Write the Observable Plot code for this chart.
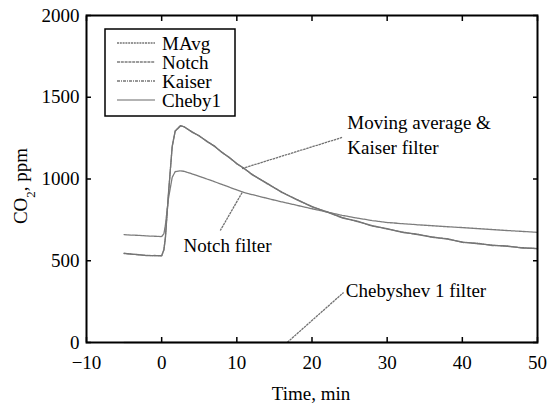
<!DOCTYPE html>
<html>
<head>
<meta charset="utf-8">
<script src="https://cdn.jsdelivr.net/npm/d3@7"></script>
<script src="https://cdn.jsdelivr.net/npm/@observablehq/plot@0.6"></script>
<style>
  html, body { margin: 0; padding: 0; background: #fff; }
  #chart { position: relative; width: 557px; height: 407px; }
  #chart svg, #chart svg text { font-family: "Liberation Serif", "Times New Roman", serif !important; }
</style>
</head>
<body>
<div id="chart"></div>
<script>
// Filtered CO2 response (ppm) versus time (min)
const seriesNames = ["MAvg", "Notch", "Kaiser", "Cheby1"];

const tPeak = [-5, -4, -3, -2, -1, 0, 0.3, 0.5, 0.9, 1.4, 1.8, 2.5, 3, 4, 5, 6, 7, 8, 9, 10, 11, 12, 14, 16, 18, 20, 22, 24, 26, 28, 30, 32, 34, 36, 38, 40, 42, 44, 46, 48, 50];
const mavgValues = [544, 541, 536, 533, 531, 531, 570, 640, 910, 1200, 1295, 1327, 1318, 1290, 1262, 1232, 1200, 1165, 1130, 1095, 1062, 1030, 972, 920, 872, 832, 797, 765, 740, 715, 694, 676, 660, 646, 632, 615, 604, 596, 588, 580, 573];
const kaiserValues = [546, 540, 537, 531, 532, 530, 566, 646, 905, 1196, 1292, 1324, 1320, 1287, 1265, 1229, 1203, 1162, 1133, 1092, 1065, 1027, 975, 917, 875, 829, 800, 762, 743, 712, 697, 673, 663, 643, 635, 612, 607, 593, 591, 577, 576];
const notchValues = [660, 657, 655, 652, 650, 648, 665, 720, 880, 1010, 1045, 1050, 1047, 1032, 1016, 1000, 984, 967, 950, 933, 917, 905, 882, 860, 839, 818, 798, 778, 761, 746, 734, 727, 720, 714, 708, 703, 697, 691, 685, 679, 674];
const cheby1Values = tPeak.map(() => 0);

const xTicks = [-10, 0, 10, 20, 30, 40, 50];
const yTicks = [0, 500, 1000, 1500, 2000];

// Callout texts and the leader lines that tie them to the curves
const noteTexts = ["Moving average &", "Kaiser filter", "Notch filter", "Chebyshev 1 filter"];
const noteT = [24.7, 24.7, 2.9, 24.5];
const noteV = [1345, 1193, 593, 318];
const leaderT1 = [10.7, 10.7, 16.7];
const leaderV1 = [1064, 917, 0];
const leaderT2 = [24.0, 7.8, 24.2];
const leaderV2 = [1254, 685, 306];

const styles = {
  MAvg:   {stroke: "#757575", dash: "2,0.8"},
  Notch:  {stroke: "#7c7c7c", dash: "3,0.8"},
  Kaiser: {stroke: "#757575", dash: "3,1,1,1"},
  Cheby1: {stroke: "#9a9a9a", dash: null}
};

const valuesBySeries = {MAvg: mavgValues, Notch: notchValues, Kaiser: kaiserValues, Cheby1: cheby1Values};
const rows = seriesNames.flatMap(name => tPeak.map((t, i) => ({series: name, t, v: valuesBySeries[name][i]})));
const notes = noteTexts.map((text, i) => ({text, t: noteT[i], v: noteV[i]}));
const leaders = leaderT1.map((t1, i) => ({t1, v1: leaderV1[i], t2: leaderT2[i], v2: leaderV2[i]}));

const fmtX = d => d < 0 ? "\u2212" + Math.abs(d) : String(d);
const fmtY = d => String(d);

const plot = Plot.plot({
  width: 557,
  height: 407,
  marginLeft: 86,
  marginRight: 20,
  marginTop: 15,
  marginBottom: 65,
  style: {fontFamily: "'Liberation Serif', 'Times New Roman', serif", fontSize: "19px", color: "#000", background: "#fff"},
  x: {domain: [-10, 50]},
  y: {domain: [0, 2000]},
  marks: [
    ...seriesNames.map(name => Plot.line(rows.filter(r => r.series === name), {
      x: "t", y: "v",
      stroke: styles[name].stroke,
      strokeWidth: 1.3,
      strokeDasharray: styles[name].dash
    })),
    Plot.link(leaders, {x1: "t1", y1: "v1", x2: "t2", y2: "v2", stroke: "#707070", strokeWidth: 1.3, strokeDasharray: "2.5,0.7"}),
    Plot.text(notes, {x: "t", y: "v", text: "text", textAnchor: "start", lineAnchor: "middle", fill: "#000"}),
    Plot.frame({stroke: "#000", strokeWidth: 2}),
    Plot.axisX(xTicks, {anchor: "bottom", tickSize: -5, tickPadding: 18, tickFormat: fmtX, label: null, strokeWidth: 1.5}),
    Plot.axisX(xTicks, {anchor: "top", tickSize: -5, tickFormat: () => "", label: null, strokeWidth: 1.5}),
    Plot.axisY(yTicks, {anchor: "left", tickSize: -5, tickPadding: 12, tickFormat: fmtY, label: null, strokeWidth: 1.5}),
    Plot.axisY(yTicks, {anchor: "right", tickSize: -5, tickFormat: () => "", label: null, strokeWidth: 1.5})
  ]
});

document.getElementById("chart").appendChild(plot);

// Axis titles, with a real subscript in CO2
const svg = d3.select(plot);
svg.append("text")
  .attr("x", 311).attr("y", 400)
  .attr("text-anchor", "middle")
  .attr("font-size", 19)
  .text("Time, min");

const yTitle = svg.append("text")
  .attr("transform", "translate(27,186) rotate(-90)")
  .attr("text-anchor", "middle")
  .attr("font-size", 19);
yTitle.append("tspan").text("CO");
yTitle.append("tspan").attr("baseline-shift", "sub").attr("font-size", 13).text("2");
yTitle.append("tspan").text(", ppm");

// Legend box in the upper-left corner of the plot area
const legend = svg.append("g").attr("transform", "translate(105,29)");
legend.append("rect")
  .attr("width", 130).attr("height", 87)
  .attr("fill", "#fff").attr("stroke", "#000").attr("stroke-width", 1.5);
seriesNames.forEach((name, i) => {
  const y = 14 + i * 19;
  legend.append("line")
    .attr("x1", 12).attr("x2", 50).attr("y1", y).attr("y2", y)
    .attr("stroke", styles[name].stroke).attr("stroke-width", 1.3)
    .attr("stroke-dasharray", styles[name].dash);
  legend.append("text")
    .attr("x", 57).attr("y", y).attr("dy", "0.35em")
    .attr("text-anchor", "start")
    .attr("font-size", 19)
    .text(name);
});
</script>
</body>
</html>
